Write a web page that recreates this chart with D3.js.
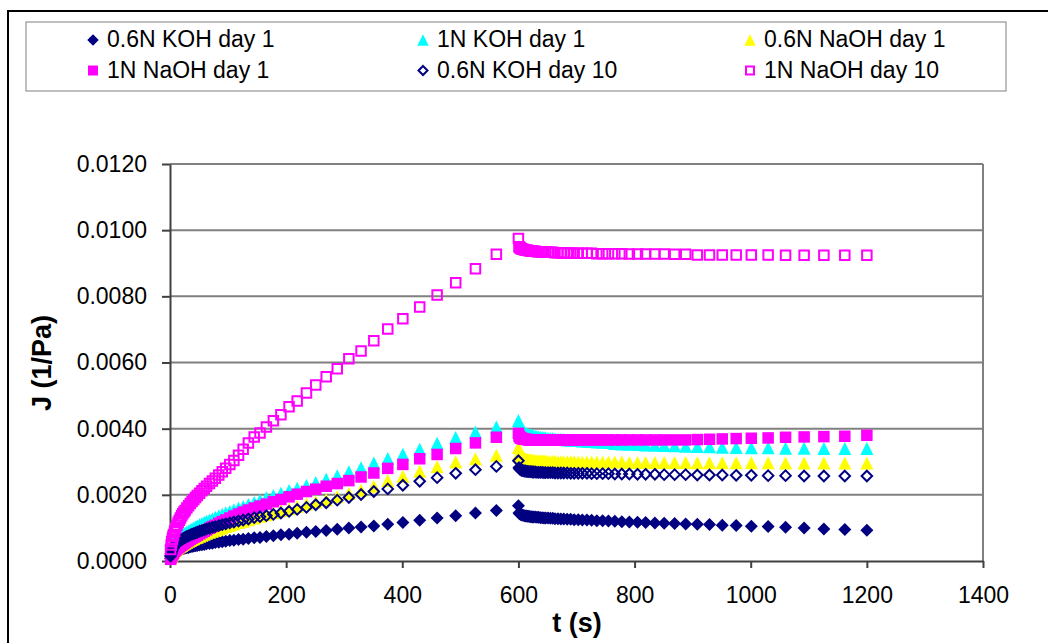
<!DOCTYPE html>
<html>
<head>
<meta charset="utf-8">
<script src="https://cdn.jsdelivr.net/npm/d3@7"></script>
<style>
  body { margin: 0; background: #fff; }
  text { font-family: "Liberation Sans", Arial, sans-serif; fill: #000; }
</style>
</head>
<body>
<div id="chart"></div>
<script>
// creep phase times (s) and recovery phase times (s)
const creepT = [1,2,3,4,5,6,8,10,12,14, 16,18,20,22,24,26,29,32,35,38,
                41,44,47,51,55,59,63,68,73,78, 84,90,96,103,110,118,126,135,145,155,
                166,178,191,205,219,235,251,269,288,308, 329,351,375,401,430,460,492,526,562,600]
const recovT = [601,602,603,604,605,606,608,610,612,614, 616,618,620,622,624,626,629,632,635,638,
                641,644,647,651,655,659,663,668,673,678, 684,690,696,703,710,718,726,735,745,755,
                766,778,791,805,819,835,851,869,888,908, 929,951,975,1001,1030,1060,1092,1126,1162,1200]

// J (1/Pa)
const koh06d1Creep = [0.00008,0.00012,0.00015,0.00018,0.00020,0.00022,0.00025,0.00028,0.00030,0.00032,
  0.00033,0.00035,0.00036,0.00037,0.00038,0.00039,0.00040,0.00041,0.00043,0.00044,
  0.00045,0.00046,0.00047,0.00048,0.00049,0.00050,0.00052,0.00053,0.00054,0.00056,
  0.00057,0.00058,0.00060,0.00062,0.00063,0.00065,0.00066,0.00068,0.00070,0.00071,
  0.00074,0.00076,0.00079,0.00081,0.00084,0.00087,0.00089,0.00092,0.00096,0.00100,
  0.00103,0.00106,0.00111,0.00116,0.00123,0.00130,0.00137,0.00145,0.00153,0.00167]
const koh06d1Recov = [0.00145,0.00143,0.00142,0.00141,0.00140,0.00139,0.00138,0.00137,0.00136,0.00136,
  0.00135,0.00135,0.00134,0.00134,0.00133,0.00133,0.00133,0.00132,0.00132,0.00131,
  0.00131,0.00130,0.00130,0.00130,0.00129,0.00129,0.00128,0.00128,0.00127,0.00127,
  0.00126,0.00126,0.00125,0.00125,0.00124,0.00124,0.00123,0.00122,0.00122,0.00121,
  0.00120,0.00119,0.00118,0.00117,0.00116,0.00115,0.00114,0.00113,0.00112,0.00111,
  0.00110,0.00108,0.00107,0.00105,0.00104,0.00102,0.00100,0.00097,0.00095,0.00093]

const koh1d1Creep = [0.00020,0.00030,0.00037,0.00043,0.00048,0.00052,0.00058,0.00063,0.00067,0.00070,
  0.00073,0.00076,0.00078,0.00080,0.00083,0.00085,0.00088,0.00091,0.00094,0.00097,
  0.00100,0.00103,0.00106,0.00110,0.00113,0.00117,0.00120,0.00124,0.00128,0.00132,
  0.00137,0.00141,0.00146,0.00150,0.00155,0.00160,0.00165,0.00171,0.00177,0.00184,
  0.00191,0.00198,0.00205,0.00213,0.00220,0.00228,0.00237,0.00247,0.00258,0.00270,
  0.00282,0.00296,0.00310,0.00323,0.00338,0.00356,0.00373,0.00390,0.00405,0.00425]
const koh1d1Recov = [0.00410,0.00405,0.00400,0.00397,0.00395,0.00392,0.00390,0.00388,0.00386,0.00384,
  0.00383,0.00382,0.00381,0.00380,0.00379,0.00378,0.00377,0.00376,0.00375,0.00374,
  0.00373,0.00373,0.00372,0.00371,0.00370,0.00370,0.00369,0.00368,0.00368,0.00367,
  0.00366,0.00365,0.00365,0.00364,0.00363,0.00362,0.00361,0.00360,0.00359,0.00358,
  0.00355,0.00354,0.00353,0.00352,0.00351,0.00350,0.00349,0.00348,0.00347,0.00346,
  0.00345,0.00344,0.00343,0.00342,0.00342,0.00341,0.00341,0.00340,0.00340,0.00340]

const naoh06d1Creep = [0.00008,0.00013,0.00017,0.00020,0.00023,0.00026,0.00030,0.00034,0.00037,0.00040,
  0.00043,0.00045,0.00047,0.00050,0.00052,0.00054,0.00057,0.00060,0.00062,0.00065,
  0.00067,0.00070,0.00072,0.00075,0.00078,0.00081,0.00084,0.00087,0.00090,0.00093,
  0.00097,0.00100,0.00104,0.00108,0.00112,0.00116,0.00120,0.00125,0.00130,0.00135,
  0.00140,0.00146,0.00152,0.00158,0.00165,0.00172,0.00178,0.00185,0.00194,0.00204,
  0.00214,0.00226,0.00243,0.00256,0.00271,0.00286,0.00299,0.00309,0.00320,0.00343]
const naoh06d1Recov = [0.00325,0.00320,0.00317,0.00315,0.00313,0.00312,0.00310,0.00309,0.00308,0.00307,
  0.00306,0.00306,0.00305,0.00305,0.00304,0.00304,0.00303,0.00303,0.00303,0.00302,
  0.00302,0.00302,0.00302,0.00301,0.00301,0.00301,0.00301,0.00300,0.00300,0.00300,
  0.00300,0.00300,0.00300,0.00299,0.00299,0.00299,0.00299,0.00299,0.00299,0.00299,
  0.00299,0.00299,0.00298,0.00298,0.00298,0.00298,0.00298,0.00298,0.00298,0.00297,
  0.00297,0.00297,0.00297,0.00297,0.00297,0.00296,0.00296,0.00296,0.00296,0.00296]

const naoh1d1Creep = [0.00005,0.00010,0.00014,0.00018,0.00021,0.00024,0.00029,0.00033,0.00037,0.00040,
  0.00043,0.00046,0.00048,0.00051,0.00053,0.00056,0.00059,0.00062,0.00066,0.00069,
  0.00072,0.00075,0.00078,0.00082,0.00086,0.00090,0.00094,0.00099,0.00104,0.00108,
  0.00114,0.00119,0.00124,0.00130,0.00136,0.00142,0.00148,0.00154,0.00160,0.00166,
  0.00172,0.00179,0.00186,0.00194,0.00202,0.00210,0.00217,0.00226,0.00234,0.00243,
  0.00254,0.00266,0.00280,0.00292,0.00309,0.00322,0.00340,0.00357,0.00374,0.00386]
const naoh1d1Recov = [0.00378,0.00375,0.00373,0.00372,0.00371,0.00370,0.00369,0.00368,0.00368,0.00367,
  0.00367,0.00366,0.00366,0.00366,0.00366,0.00366,0.00366,0.00366,0.00366,0.00366,
  0.00366,0.00366,0.00366,0.00366,0.00366,0.00366,0.00366,0.00366,0.00366,0.00366,
  0.00366,0.00366,0.00366,0.00366,0.00366,0.00366,0.00366,0.00366,0.00366,0.00366,
  0.00366,0.00366,0.00366,0.00366,0.00366,0.00366,0.00366,0.00366,0.00366,0.00367,
  0.00368,0.00369,0.00370,0.00371,0.00372,0.00374,0.00375,0.00376,0.00377,0.00380]

const koh06d10Creep = [0.00015,0.00022,0.00028,0.00033,0.00037,0.00040,0.00046,0.00050,0.00054,0.00057,
  0.00060,0.00062,0.00065,0.00067,0.00069,0.00071,0.00074,0.00076,0.00079,0.00081,
  0.00083,0.00085,0.00087,0.00090,0.00092,0.00094,0.00097,0.00099,0.00102,0.00104,
  0.00107,0.00110,0.00112,0.00115,0.00118,0.00121,0.00124,0.00127,0.00131,0.00134,
  0.00137,0.00141,0.00145,0.00150,0.00156,0.00162,0.00170,0.00176,0.00184,0.00192,
  0.00201,0.00210,0.00218,0.00229,0.00241,0.00252,0.00265,0.00276,0.00286,0.00303]
const koh06d10Recov = [0.00282,0.00279,0.00277,0.00276,0.00275,0.00274,0.00273,0.00272,0.00272,0.00271,
  0.00271,0.00270,0.00270,0.00270,0.00269,0.00269,0.00269,0.00268,0.00268,0.00268,
  0.00268,0.00267,0.00267,0.00267,0.00267,0.00267,0.00266,0.00266,0.00266,0.00266,
  0.00266,0.00265,0.00265,0.00265,0.00265,0.00265,0.00264,0.00264,0.00264,0.00264,
  0.00263,0.00263,0.00263,0.00262,0.00262,0.00262,0.00261,0.00261,0.00261,0.00260,
  0.00260,0.00260,0.00259,0.00259,0.00258,0.00258,0.00257,0.00257,0.00257,0.00257]

const naoh1d10Creep = [0.00035,0.00048,0.00058,0.00066,0.00073,0.00080,0.00090,0.00100,0.00108,0.00116,
  0.00123,0.00130,0.00137,0.00143,0.00148,0.00153,0.00160,0.00167,0.00174,0.00180,
  0.00186,0.00192,0.00198,0.00205,0.00212,0.00219,0.00226,0.00234,0.00242,0.00250,
  0.00260,0.00270,0.00280,0.00292,0.00304,0.00320,0.00338,0.00357,0.00375,0.00387,
  0.00405,0.00424,0.00442,0.00466,0.00484,0.00508,0.00532,0.00557,0.00581,0.00611,
  0.00635,0.00666,0.00701,0.00732,0.00768,0.00804,0.00841,0.00883,0.00927,0.00975]
const naoh1d10Recov = [0.00950,0.00948,0.00946,0.00945,0.00944,0.00943,0.00942,0.00941,0.00940,0.00939,
  0.00939,0.00938,0.00938,0.00937,0.00937,0.00936,0.00936,0.00935,0.00935,0.00935,
  0.00934,0.00934,0.00934,0.00933,0.00933,0.00933,0.00932,0.00932,0.00932,0.00931,
  0.00931,0.00931,0.00930,0.00930,0.00930,0.00930,0.00930,0.00929,0.00929,0.00929,
  0.00929,0.00929,0.00928,0.00928,0.00928,0.00928,0.00928,0.00927,0.00927,0.00925,
  0.00925,0.00925,0.00925,0.00925,0.00925,0.00924,0.00924,0.00924,0.00924,0.00924]

const seriesNames = ["0.6N KOH day 1", "1N KOH day 1", "0.6N NaOH day 1",
                     "1N NaOH day 1", "0.6N KOH day 10", "1N NaOH day 10"]

const xTicks = [0, 200, 400, 600, 800, 1000, 1200, 1400]
const yTicks = [0, 0.002, 0.004, 0.006, 0.008, 0.010, 0.012]

const [navy, cyan, yellow, magenta] = ["#000080", "#00ffff", "#ffff00", "#ff00ff"]

const series = [
  {name: seriesNames[0], creep: koh06d1Creep,  recov: koh06d1Recov,  shape: "diamond",  color: navy,    filled: true,  size: 13},
  {name: seriesNames[1], creep: koh1d1Creep,   recov: koh1d1Recov,   shape: "triangle", color: cyan,    filled: true,  size: 13},
  {name: seriesNames[2], creep: naoh06d1Creep, recov: naoh06d1Recov, shape: "triangle", color: yellow,  filled: true,  size: 13},
  {name: seriesNames[3], creep: naoh1d1Creep,  recov: naoh1d1Recov,  shape: "square",   color: magenta, filled: true,  size: 11.5},
  {name: seriesNames[4], creep: koh06d10Creep, recov: koh06d10Recov, shape: "diamond",  color: navy,    filled: false, size: 10.5},
  {name: seriesNames[5], creep: naoh1d10Creep, recov: naoh1d10Recov, shape: "square",   color: magenta, filled: false, size: 9.5}
]

const points = s => creepT.map((t, i) => ({t: t, j: s.creep[i]}))
      .concat(recovT.map((t, i) => ({t: t, j: s.recov[i]})))

const shapePath = (shape, size) => {
  const h = size / 2
  if (shape == "diamond") return `M0,${-h}L${h},0L0,${h}L${-h},0Z`
  if (shape == "triangle") return `M0,${-h}L${h},${h}L${-h},${h}Z`
  return `M${-h},${-h}H${h}V${h}H${-h}Z`
}

const styleMarker = (sel, s) => sel
  .attr("d", shapePath(s.shape, s.size))
  .attr("fill", s.filled ? s.color : "none")
  .attr("stroke", s.filled ? "none" : s.color)
  .attr("stroke-width", s.filled ? 0 : 2)

const width = 1048, height = 643
const plot = {left: 170, right: 983, top: 164, bottom: 561}

const svg = d3.select("#chart").append("svg")
  .attr("width", width)
  .attr("height", height)

// outer chart frame
svg.append("rect")
  .attr("x", 8).attr("y", 11)
  .attr("width", 1060).attr("height", 660)
  .attr("fill", "none")
  .attr("stroke", "#000")
  .attr("stroke-width", 2)

const x = d3.scaleLinear().domain([0, 1400]).range([plot.left, plot.right])
const y = d3.scaleLinear().domain([0, 0.012]).range([plot.bottom, plot.top])

// gridlines + plot border
svg.append("g")
  .selectAll("line")
  .data(yTicks.slice(1))
  .join("line")
  .attr("x1", plot.left).attr("x2", plot.right)
  .attr("y1", d => y(d)).attr("y2", d => y(d))
  .attr("stroke", "#808080")
  .attr("stroke-width", 2)

svg.append("line")
  .attr("x1", plot.right).attr("x2", plot.right)
  .attr("y1", plot.top).attr("y2", plot.bottom)
  .attr("stroke", "#808080")
  .attr("stroke-width", 2)

const yAxis = svg.append("g")
  .attr("transform", `translate(${plot.left},0)`)
  .call(d3.axisLeft(y).tickValues(yTicks).tickFormat(d3.format(".4f"))
        .tickSize(8).tickSizeOuter(0).tickPadding(15))

const xAxis = svg.append("g")
  .attr("transform", `translate(0,${plot.bottom})`)
  .call(d3.axisBottom(x).tickValues(xTicks).tickFormat(d3.format("d"))
        .tickSize(7).tickSizeOuter(0).tickPadding(19))

for (const ax of [xAxis, yAxis]) {
  ax.select(".domain").attr("stroke", "#404040").attr("stroke-width", 2)
  ax.selectAll(".tick line").attr("stroke", "#404040").attr("stroke-width", 2)
  ax.selectAll(".tick text")
    .attr("font-family", "Liberation Sans, Arial, sans-serif")
    .attr("font-size", "23px")
    .attr("fill", "#000")
}

// data markers, drawn in series order
const marks = svg.append("g")
series.forEach(s => {
  marks.append("g")
    .selectAll("path")
    .data(points(s))
    .join("path")
    .attr("transform", d => `translate(${x(d.t)},${y(d.j)})`)
    .call(sel => styleMarker(sel, s))
})

// axis titles
svg.append("text")
  .attr("x", 577).attr("y", 632)
  .attr("text-anchor", "middle")
  .attr("font-size", "27px")
  .attr("font-weight", "bold")
  .text("t (s)")

svg.append("text")
  .attr("transform", "translate(51,363) rotate(-90)")
  .attr("text-anchor", "middle")
  .attr("font-size", "27px")
  .attr("font-weight", "bold")
  .text("J (1/Pa)")

// legend
svg.append("rect")
  .attr("x", 26).attr("y", 22)
  .attr("width", 980).attr("height", 69)
  .attr("fill", "#fff")
  .attr("stroke", "#808080")
  .attr("stroke-width", 1)

const legendCols = [93, 423, 750]
const legendRows = [40, 70.5]

const legend = svg.append("g")
  .selectAll("g")
  .data(series)
  .join("g")
  .attr("transform", (d, i) => `translate(${legendCols[i % 3]},${legendRows[Math.floor(i / 3)]})`)

legend.append("path")
  .each(function(s) {
    styleMarker(d3.select(this), Object.assign({}, s, {size: s.size - 1.5}))
  })

legend.append("text")
  .attr("x", 14)
  .attr("y", 7)
  .attr("font-size", "23px")
  .text(d => d.name)
</script>
</body>
</html>
